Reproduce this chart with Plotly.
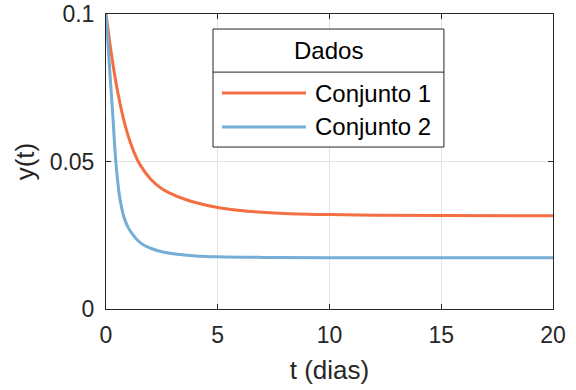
import plotly.graph_objects as go

# ---- data ----
t1 = [0, 0.25, 0.5, 0.75, 1.0, 1.25, 1.5, 2.0, 2.5, 3.0, 3.5, 4.0, 5.0, 6.0, 7.0, 8.0, 10.0, 12.0, 15.0, 20.0]
y1 = [0.100, 0.0860, 0.0745, 0.0655, 0.0585, 0.0532, 0.0492, 0.0440, 0.0408, 0.0388, 0.0373, 0.0361, 0.0344, 0.0334, 0.0328, 0.0324, 0.0320, 0.0318, 0.0317, 0.0316]

t2 = [0, 0.1, 0.2, 0.3, 0.4, 0.5, 0.6, 0.7, 0.8, 0.9, 1.0, 1.2, 1.4, 1.7, 2.0, 2.5, 3.0, 3.5, 4.0, 5.0, 7.0, 10.0, 20.0]
y2 = [0.100, 0.0885, 0.0772, 0.0662, 0.0540, 0.0450, 0.0385, 0.0343, 0.0312, 0.0291, 0.0275, 0.0252, 0.0234, 0.0216, 0.0206, 0.0194, 0.0187, 0.0183, 0.0180, 0.0177, 0.0175, 0.0174, 0.0174]

names = ["Conjunto 1", "Conjunto 2"]
colors = ["#F46E42", "#74ADD5"]
legend_title = "Dados"

x_ticks = [0, 5, 10, 15, 20]
x_ticktext = ["0", "5", "10", "15", "20"]
y_ticks = [0, 0.05, 0.1]
y_ticktext = ["0", "0.05", "0.1"]

FONT = "Liberation Sans, Arial, Helvetica, sans-serif"
TXT = "#262626"

fig = go.Figure()
for t, y, n, c in [(t1, y1, names[0], colors[0]), (t2, y2, names[1], colors[1])]:
    fig.add_trace(go.Scatter(x=t, y=y, mode="lines", name=n,
                             line=dict(color=c, width=3, shape="spline", smoothing=1.0),
                             showlegend=False))

axis_common = dict(showline=True, linecolor=TXT, linewidth=1, mirror="ticks",
                   ticks="inside", ticklen=5, tickcolor=TXT, showgrid=True,
                   gridcolor="#e3e3e3", gridwidth=1, zeroline=False, automargin=False,
                   ticklabeloverflow="allow",
                   tickfont=dict(family=FONT, size=23, color=TXT))

fig.update_xaxes(range=[0, 20], tickvals=x_ticks, ticktext=x_ticktext, ticklabelstandoff=5,
                 title=dict(text="t (dias)", font=dict(family=FONT, size=26, color=TXT), standoff=14),
                 **axis_common)
fig.update_yaxes(range=[0, 0.1], tickvals=y_ticks, ticktext=y_ticktext, ticklabelstandoff=6,
                 title=dict(text="y(t)", font=dict(family=FONT, size=26, color=TXT), standoff=7),
                 **axis_common)

# manual legend box (paper coordinates)
bx0, bx1, by0, by1, bdiv = 0.2394, 0.756, 0.549, 0.949, 0.803
shapes = [
    dict(type="rect", xref="paper", yref="paper", x0=bx0, x1=bx1, y0=by0, y1=by1,
         line=dict(color=TXT, width=1), fillcolor="white", layer="above"),
    dict(type="line", xref="paper", yref="paper", x0=bx0, x1=bx1, y0=bdiv, y1=bdiv,
         line=dict(color=TXT, width=1), layer="above"),
]
ly = [0.732, 0.617]
for c, yy in zip(colors, ly):
    shapes.append(dict(type="line", xref="paper", yref="paper", x0=0.2595, x1=0.4474,
                       y0=yy, y1=yy, line=dict(color=c, width=3), layer="above"))

annotations = [dict(text=legend_title, xref="paper", yref="paper", x=(bx0 + bx1) / 2, y=0.875,
                    xanchor="center", yanchor="middle", showarrow=False,
                    font=dict(family=FONT, size=24, color="black"))]
for n, yy in zip(names, ly):
    annotations.append(dict(text=n, xref="paper", yref="paper", x=0.463, y=yy,
                            xanchor="left", yanchor="middle", showarrow=False,
                            font=dict(family=FONT, size=24, color="black")))

fig.update_layout(width=576, height=390, margin=dict(l=106, r=23, t=14, b=81),
                  plot_bgcolor="white", paper_bgcolor="white",
                  shapes=shapes, annotations=annotations, showlegend=False)

# remove the default page-body margin so the figure sits at the window's top-left
fig.write_html("out.html", config={"displayModeBar": False},
               post_script="document.body.style.margin='0';document.body.style.overflow='hidden';")
